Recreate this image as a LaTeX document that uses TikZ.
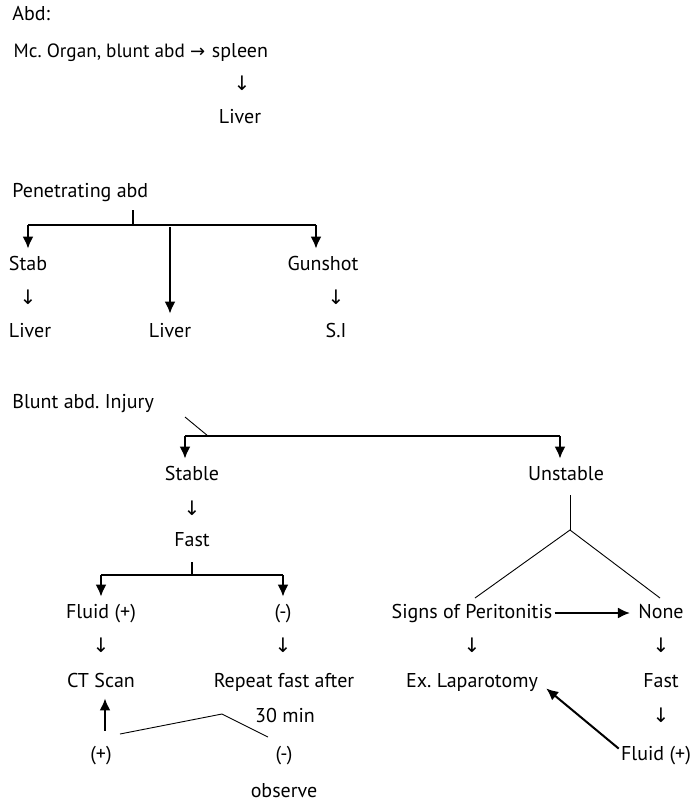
\documentclass[tikz,border=0pt]{standalone}
\usepackage{fontspec}
\setmainfont{PT Sans}
\newfontfamily\arrfont{DejaVu Sans}
\usetikzlibrary{arrows.meta,positioning}
\frenchspacing

\begin{document}
\begin{tikzpicture}[x=0.5pt, y=-0.5pt,
  every node/.style = {font=\fontsize{10}{12}\selectfont, inner xsep=1pt, inner ysep=3pt, text height=7.5pt, text depth=2.5pt},
  dn/.style = {font=\fontsize{10}{12}\arrfont},
  bar/.style = {line width=0.75pt},
  fine/.style = {line width=0.45pt},
  arr/.style = {line width=1pt, -{Latex[length=6pt,width=5.5pt]}}]
\useasboundingbox (0,0) rectangle (697,805);

% organ injury
\node[anchor=west] (abd) at (10,15) {Abd:};
\node (spleen) at (240,52) {spleen};
\node[left=1pt of spleen, font=\fontsize{9.6}{12}\selectfont] (mc) {Mc. Organ, blunt abd {\fontsize{9}{12}\arrfont →}};
\node[dn] (d1) at (242,85) {↓};
\node (liver1) at (240,118) {Liver};

% penetrating
\node[anchor=west] (pen) at (10,192) {Penetrating abd};
\coordinate (pen-t) at (133,210);
\coordinate (pen-b) at (133,225);
\coordinate (pen-l) at (28,225);
\coordinate (pen-m) at (170,227);
\coordinate (pen-r) at (316,225);
\node (stab) at (28,265) {Stab};
\node[dn] (d2) at (28,299) {↓};
\node (liver2) at (30,332) {Liver};
\node (liver3) at (170,332) {Liver};
\node (gun) at (323,265) {Gunshot};
\node[dn] (d3) at (336,299) {↓};
\node (si) at (336,332) {S.I};
\draw[bar] (pen-t) -- (pen-b);
\draw[bar] (pen-l) -- (pen-r);
\draw[arr] (pen-l) -- (stab.north);
\draw[arr] (pen-r) -- (pen-r |- gun.north);
\draw[arr, shorten >=1pt] (pen-m) -- (liver3.north);

% blunt
\node[anchor=west] (blunt) at (10,403) {Blunt abd. Injury};
\coordinate (bl-s) at (185,417);
\coordinate (bl-j) at (208,436);
\coordinate (bl-l) at (185,436);
\coordinate (bl-r) at (560,436);
\node (stable) at (192,475) {Stable};
\node (unstable) at (566,475) {Unstable};
\draw[fine] (bl-s) -- (bl-j);
\draw[bar] (bl-l) -- (bl-r);
\draw[arr] (bl-l) -- (bl-l |- stable.north);
\draw[arr] (bl-r) -- (bl-r |- unstable.north);

% stable side
\node[dn] (d4) at (192,510) {↓};
\node (fast1) at (192,541) {Fast};
\coordinate (f-t) at (192,562);
\coordinate (f-b) at (192,575);
\coordinate (f-l) at (101,575);
\coordinate (f-r) at (283,575);
\node (fluid1) at (101,613) {Fluid (+)};
\node (neg1) at (283,613) {(-)};
\draw[bar] (f-t) -- (f-b);
\draw[bar] (f-l) -- (f-r);
\draw[arr] (f-l) -- (fluid1.north);
\draw[arr] (f-r) -- (neg1.north);
\node[dn] (d5) at (101,647) {↓};
\node[dn] (d6) at (283,647) {↓};
\node (ct) at (101,682) {CT Scan};
\node (rep) at (284,682) {Repeat fast after};
\node (min) at (285,717) {30 min};
\node (pos) at (101,755) {(+)};
\node (neg2) at (284,755) {(-)};
\node (obs) at (284,792) {observe};
\draw[arr, shorten <=4pt] ([xshift=2pt]pos.north) -- ([xshift=2pt]ct.south);
\coordinate (rp-a) at (120,734);
\coordinate (rp-b) at (222,714);
\coordinate (rp-c) at (268,737);
\draw[fine] (rp-a) -- (rp-b) -- (rp-c);

% unstable side
\coordinate (un-t) at (570,495);
\coordinate (un-j) at (570,530);
\coordinate (un-l) at (475,598);
\coordinate (un-r) at (660,598);
\draw[fine] (un-t) -- (un-j);
\draw[fine] (un-l) -- (un-j) -- (un-r);
\node (signs) at (472,613) {Signs of Peritonitis};
\node (none) at (661,613) {None};
\draw[arr, shorten >=3pt] (signs) -- (none);
\node[dn] (d7) at (472,647) {↓};
\node (exlap) at (472,682) {Ex. Laparotomy};
\node[dn] (d8) at (661,647) {↓};
\node (fast2) at (661,682) {Fast};
\node[dn] (d9) at (661,717) {↓};
\node (fluid2) at (656,755) {Fluid (+)};
\draw[arr] ([yshift=-5pt]fluid2.north west) -- ([xshift=3pt,yshift=5pt]exlap.south east);
\end{tikzpicture}
\end{document}
